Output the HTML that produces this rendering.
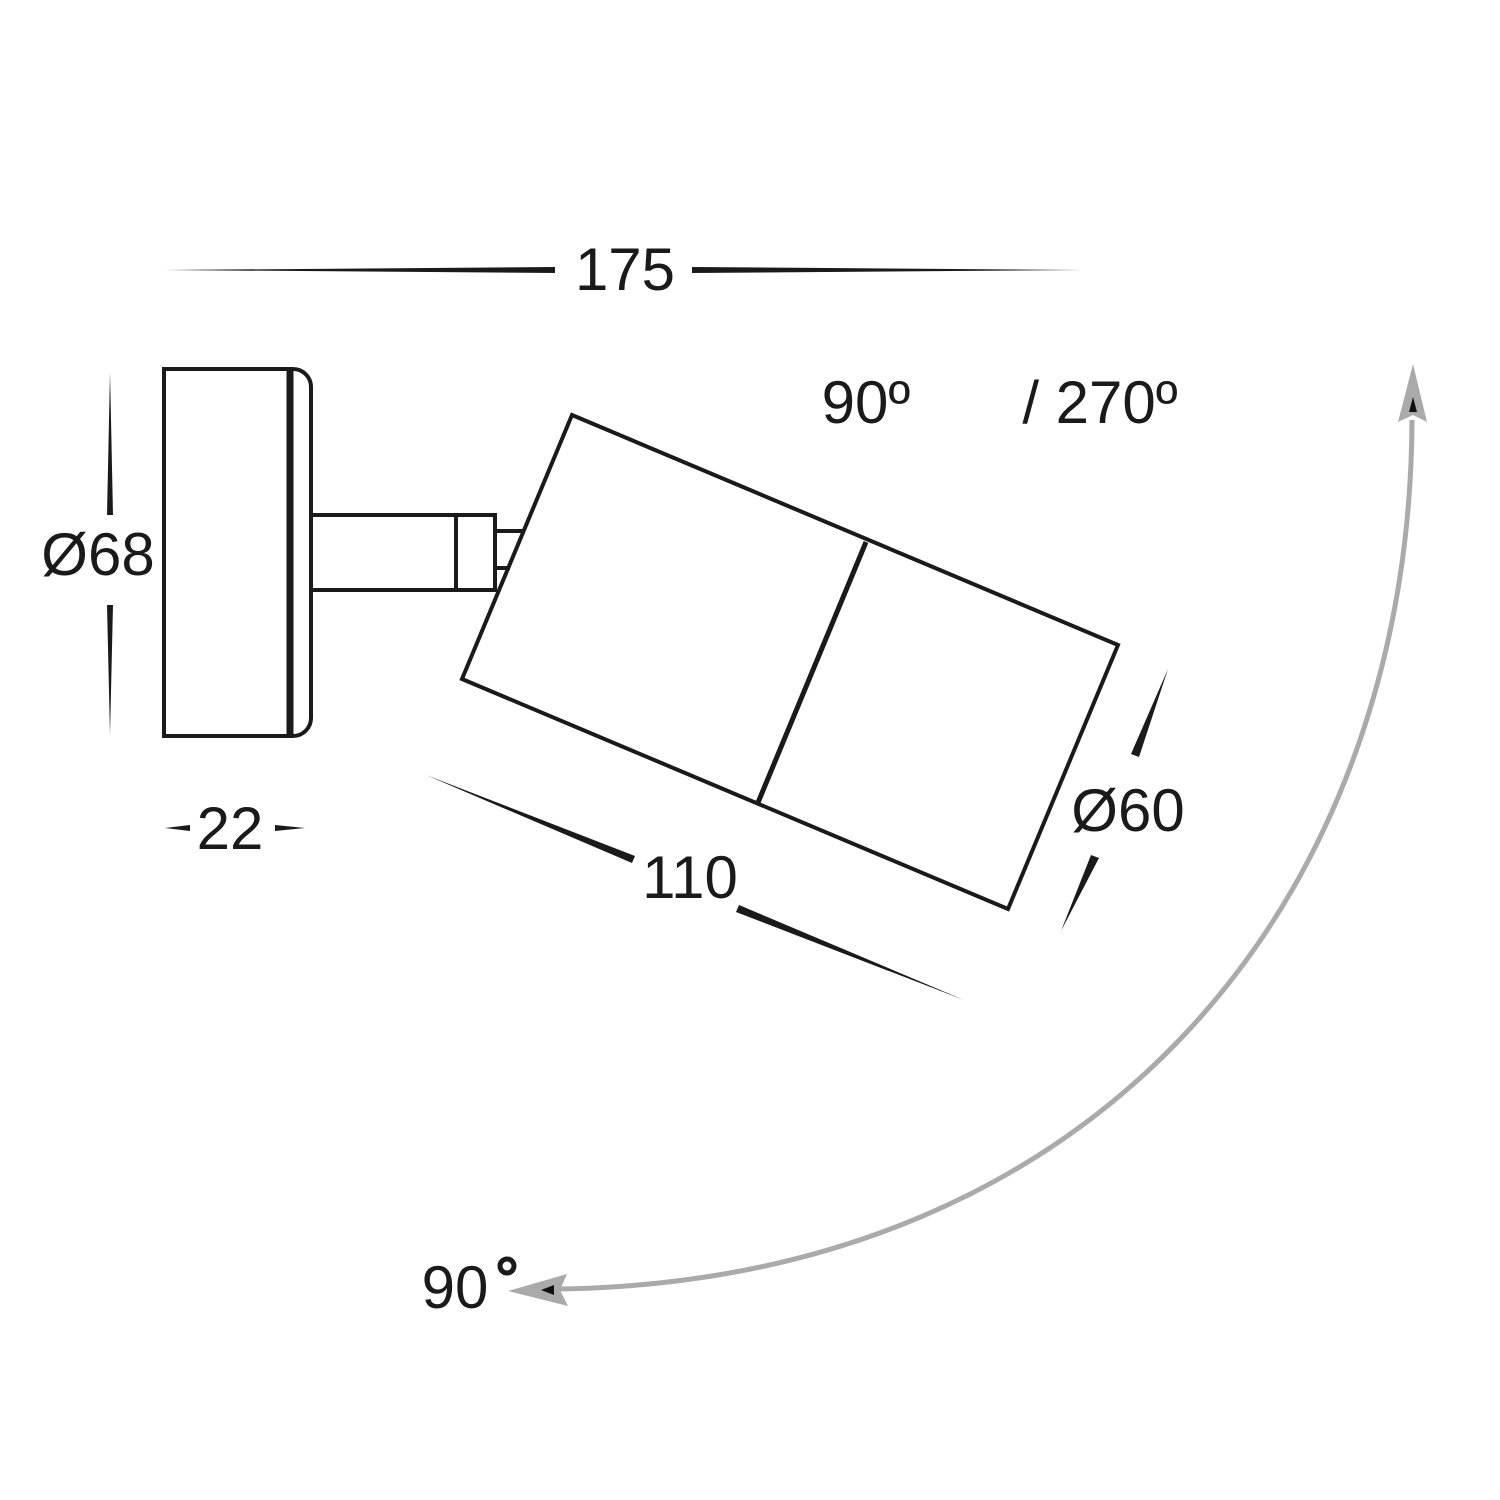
<!DOCTYPE html>
<html><head><style>html,body{margin:0;padding:0;background:#fff}svg{display:block}</style></head>
<body>
<svg width="1500" height="1500" viewBox="0 0 1500 1500" xmlns="http://www.w3.org/2000/svg">
<g fill="none" stroke="#1a1a1a" stroke-width="4">
  <rect x="164" y="369" width="125" height="367"/>
  <path d="M289 369 H293 A18 18 0 0 1 311 387 V718 A18 18 0 0 1 293 736 H289"/>
  <rect x="311" y="515" width="145" height="75"/>
  <rect x="456" y="515" width="39" height="75"/>
  <path d="M495 531 H525 M495 568 H510"/>
  <polygon points="572,415 1118,645 1008,909 462,679"/>
</g>
<line x1="290" y1="369" x2="290" y2="736" stroke="#1a1a1a" stroke-width="7"/>
<line x1="866" y1="542" x2="757" y2="805" stroke="#1a1a1a" stroke-width="5"/>
<g fill="#1a1a1a">
  <polygon points="165,270 555,267 555,273"/>
  <polygon points="692,267 1082,270 692,273"/>
  <polygon points="110,372 107,515 113,515"/>
  <polygon points="107,605 113,605 110,735"/>
  <polygon points="165,828 190,825 190,831"/>
  <polygon points="275,825 305,828 275,831"/>
  <polygon points="426,775 635,856 632,863"/>
  <polygon points="739,905 964,1000 736,912"/>
  <polygon points="1168,669 1139,757 1131,754"/>
  <polygon points="1091,855 1099,858 1061,931"/>
</g>
<g font-family="Liberation Sans, Arial, sans-serif" font-size="60" fill="#1a1a1a" text-anchor="middle">
  <text x="625" y="290">175</text>
  <text x="98" y="575">Ø68</text>
  <text x="230" y="849">22</text>
  <text x="690" y="898">110</text>
  <text x="1128" y="831">Ø60</text>
  <text x="866" y="423">90º</text>
  <text x="1100" y="423">/ 270º</text>
  <text x="455" y="1308">90</text>
</g>
<circle cx="507" cy="1266" r="7" fill="none" stroke="#1a1a1a" stroke-width="5"/>
<path d="M1412 420 C1410 900 1100 1280 560 1289" fill="none" stroke="#aaa" stroke-width="5"/>
<polygon points="1413,364 1427,422 1413,415 1398,422" fill="#aaa"/>
<polygon points="1413,397 1417,412 1409,412" fill="#111"/>
<polygon points="508,1291 567,1274 560,1290 568,1306" fill="#aaa"/>
<polygon points="541,1290 554,1285 554,1295" fill="#111"/>
</svg>
</body></html>
